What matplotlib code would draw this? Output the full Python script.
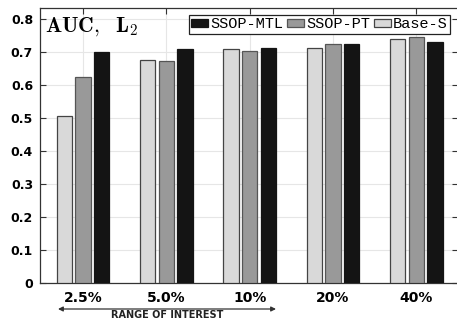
import matplotlib
matplotlib.use("Agg")
import matplotlib.pyplot as plt
import numpy as np

categories = ["2.5%", "5.0%", "10%", "20%", "40%"]
base_s = [0.505, 0.676, 0.710, 0.712, 0.738]
ssop_pt = [0.625, 0.672, 0.702, 0.724, 0.746]
ssop_mtl = [0.700, 0.710, 0.713, 0.724, 0.731]
yticks = [0, 0.1, 0.2, 0.3, 0.4, 0.5, 0.6, 0.7, 0.8]
ytick_labels = ["0", "0.1", "0.2", "0.3", "0.4", "0.5", "0.6", "0.7", "0.8"]

fig = plt.figure(figsize=(4.57, 3.26), dpi=100)
ax = fig.add_axes([40/457, 43/326, 418/457, 275/326])

x = np.arange(1, len(categories) + 1)
w = 0.185
off = 0.225
ax.bar(x - off, base_s, w, color="#d9d9d9", edgecolor="#444444", linewidth=0.9, label="Base-S", zorder=3)
ax.bar(x, ssop_pt, w, color="#999999", edgecolor="#555555", linewidth=0.9, label="SSOP-PT", zorder=3)
ax.bar(x + off, ssop_mtl, w, color="#141414", edgecolor="#141414", linewidth=0.9, label="SSOP-MTL", zorder=3)

ax.set_xlim(0.484, 5.5)
ax.set_ylim(0, 0.833)
ax.set_xticks(x)
ax.set_xticklabels(categories, fontsize=10, fontweight="bold", family="DejaVu Sans")
ax.set_yticks(yticks)
ax.set_yticklabels(ytick_labels, fontsize=9, fontweight="bold", family="DejaVu Sans")
ax.tick_params(direction="in", top=True, right=True, length=4, width=0.8, color="#333333")
ax.tick_params(axis="x", pad=6)
ax.tick_params(axis="y", pad=5)
ax.grid(True, color="#e6e6e6", linewidth=0.8, zorder=0)
ax.set_axisbelow(True)
for s in ax.spines.values():
    s.set_color("#333333")
    s.set_linewidth(0.9)

h, l = ax.get_legend_handles_labels()
leg = ax.legend(h[::-1], l[::-1], ncol=3, loc="upper right", bbox_to_anchor=(0.9875, 0.985),
                prop={"family": "Liberation Mono", "size": 11}, frameon=True, fancybox=False,
                edgecolor="#222222", framealpha=1, handlelength=1.15, handleheight=0.5,
                handletextpad=0.1, columnspacing=0.25, borderpad=0.15, borderaxespad=0.2)
leg.get_frame().set_linewidth(0.9)

ax.text(0.013, 0.975, r"$\mathbf{AUC},\ \ \mathbf{L}_{\mathbf{2}}$", transform=ax.transAxes, fontsize=15.5,
        va="top", ha="left", math_fontfamily="cm")

ax.annotate("", xy=(58/457, 17/326), xytext=(276/457, 17/326), xycoords="figure fraction",
            arrowprops=dict(arrowstyle="<|-|>", color="#333333", lw=0.9,
                            mutation_scale=7, shrinkA=0, shrinkB=0))
fig.text(167/457, 11/326, "RANGE OF INTEREST", fontsize=7, fontweight="bold",
         family="DejaVu Sans", ha="center", va="center", color="#222222")

fig.savefig("out.png", dpi=100)
